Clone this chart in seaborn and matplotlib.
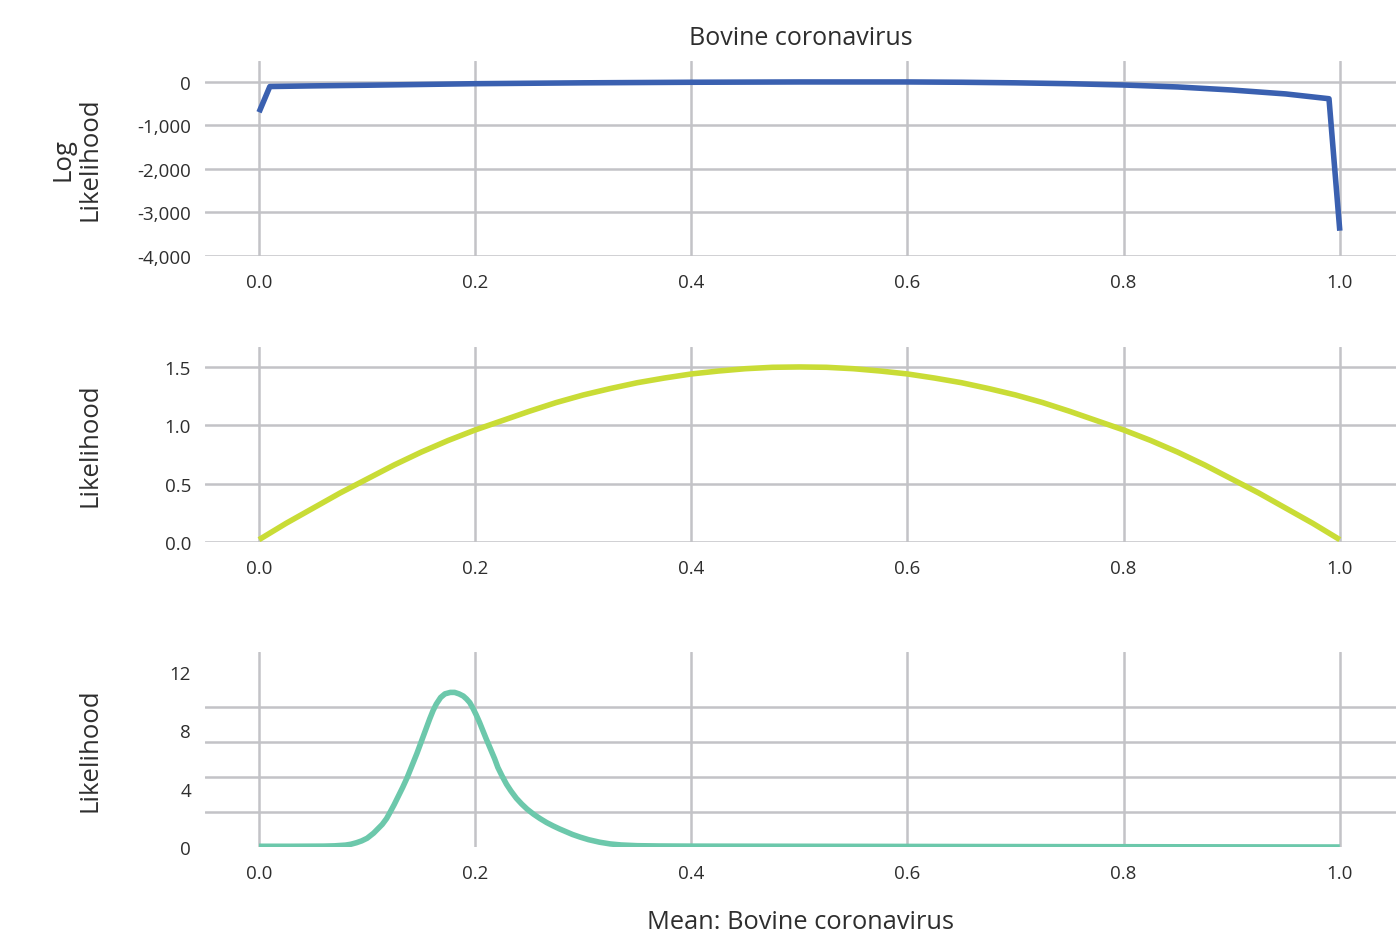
import numpy as np
import pandas as pd
import matplotlib
matplotlib.use("Agg")
import matplotlib.pyplot as plt
import seaborn as sns

# ---- data ----
title = "Bovine coronavirus"
xlabel = "Mean: Bovine coronavirus"

log_x = [0.0, 0.01, 0.05, 0.1, 0.2, 0.3, 0.4, 0.5, 0.6, 0.65, 0.7, 0.75,
         0.8, 0.85, 0.9, 0.95, 0.99, 1.0]
log_y = [-700, -110, -95, -80, -45, -25, -12, -5, -5, -12, -25, -45,
         -75, -120, -190, -280, -390, -3420]

prior_x = [0.0, 0.025, 0.05, 0.075, 0.1, 0.125, 0.15, 0.175, 0.2, 0.225, 0.25,
           0.275, 0.3, 0.325, 0.35, 0.375, 0.4, 0.425, 0.45, 0.475, 0.5,
           0.525, 0.55, 0.575, 0.6, 0.625, 0.65, 0.675, 0.7, 0.725, 0.75,
           0.775, 0.8, 0.825, 0.85, 0.875, 0.9, 0.925, 0.95, 0.975, 1.0]
prior_y = [0.02, 0.16, 0.29, 0.42, 0.54, 0.66, 0.77, 0.87, 0.96, 1.04, 1.12,
           1.195, 1.26, 1.315, 1.365, 1.405, 1.44, 1.465, 1.485, 1.497, 1.5,
           1.497, 1.485, 1.465, 1.44, 1.405, 1.365, 1.315, 1.26, 1.195, 1.12,
           1.04, 0.96, 0.87, 0.77, 0.66, 0.54, 0.42, 0.29, 0.16, 0.02]

post_x = [0.0, 0.03, 0.06, 0.07, 0.08, 0.085, 0.09, 0.095, 0.1, 0.106, 0.11,
          0.114, 0.118, 0.121, 0.125, 0.129, 0.133, 0.137, 0.14, 0.143, 0.146,
          0.149, 0.152, 0.155, 0.158, 0.161, 0.164, 0.168, 0.172, 0.177, 0.181,
          0.185, 0.189, 0.192, 0.195, 0.198, 0.201, 0.204, 0.207, 0.21, 0.214,
          0.218, 0.221, 0.225, 0.229, 0.233, 0.238, 0.243, 0.248, 0.254, 0.26,
          0.266, 0.272, 0.278, 0.284, 0.29, 0.297, 0.305, 0.315, 0.325, 0.335,
          0.35, 0.37, 0.4, 0.5, 0.6, 0.7, 0.8, 0.9, 1.0]
post_y = [0.05, 0.05, 0.06, 0.08, 0.13, 0.19, 0.29, 0.42, 0.6, 0.95, 1.25,
          1.55, 1.95, 2.35, 2.9, 3.5, 4.1, 4.75, 5.3, 5.85, 6.4,
          7.0, 7.6, 8.2, 8.8, 9.35, 9.8, 10.25, 10.5, 10.6, 10.6,
          10.5, 10.35, 10.15, 9.9, 9.5, 9.05, 8.55, 8.0, 7.45, 6.75,
          6.05, 5.45, 4.85, 4.3, 3.85, 3.35, 2.95, 2.6, 2.25, 1.95,
          1.68, 1.45, 1.24, 1.05, 0.86, 0.68, 0.5, 0.33, 0.21, 0.14,
          0.09, 0.07, 0.06, 0.05, 0.04, 0.03, 0.02, 0.01, 0.0]

x_ticks = [0.0, 0.2, 0.4, 0.6, 0.8, 1.0]
x_ticklabels = ["0.0", "0.2", "0.4", "0.6", "0.8", "1.0"]
top_yticks = [0, -1000, -2000, -3000, -4000]
top_yticklabels = ["0", "-1,000", "-2,000", "-3,000", "-4,000"]
mid_yticks = [0.0, 0.5, 1.0, 1.5]
mid_yticklabels = ["0.0", "0.5", "1.0", "1.5"]
bot_yticks = [0, 4, 8, 12]
bot_yticklabels = ["0", "4", "8", "12"]
bot_ygrid = [0, 2.4, 4.8, 7.2, 9.6, 12]

# ---- style ----
sns.set_theme(style="white")
plt.rcParams['font.family'] = ['Open Sans', 'DejaVu Sans']
text_color = "#2e2e2e"
grid_color = "#c3c3c7"

fig = plt.figure(figsize=(13.96, 9.37), dpi=100)
W, H = 1396, 937
def add_axes(top_px, bot_px):
    return fig.add_axes([205 / W, 1 - bot_px / H, 1 - 205 / W, (bot_px - top_px) / H])

ax1 = add_axes(62, 257)
ax2 = add_axes(348, 543)
ax3 = add_axes(653, 848)

df1 = pd.DataFrame({"x": log_x, "y": log_y})
df2 = pd.DataFrame({"x": prior_x, "y": prior_y})
df3 = pd.DataFrame({"x": post_x, "y": post_y})

line_kw = dict(lw=4.0, sort=False, solid_joinstyle="round", solid_capstyle="butt")
sns.lineplot(data=df1, x="x", y="y", ax=ax1, color="#3a60b0", **line_kw)
sns.lineplot(data=df2, x="x", y="y", ax=ax2, color="#c9dc36", **line_kw)
sns.lineplot(data=df3, x="x", y="y", ax=ax3, color="#6cc8ab", **line_kw)

for ax in (ax1, ax2, ax3):
    ax.set_xlim(-0.05, 1.052)
    ax.set_xticks(x_ticks)
    ax.set_xticklabels(x_ticklabels)
    for s in ax.spines.values():
        s.set_visible(False)
    ax.tick_params(axis="both", length=0, colors=text_color, labelsize=13.5)
    ax.tick_params(axis="x", pad=12)
    ax.tick_params(axis="y", pad=10)
    ax.grid(True, axis="x", color=grid_color, lw=1.8)
    ax.set_axisbelow(True)
    ax.set_xlabel("")

ax1.set_ylim(-4000, 476)
ax1.set_yticks(top_yticks)
ax1.set_yticklabels(top_yticklabels)
ax1.grid(True, axis="y", color=grid_color, lw=1.8)
ax1.set_ylabel("Log\nLikelihood", fontsize=18.5, color=text_color, linespacing=1.1)
ax1.set_title(title, fontsize=18, color=text_color, pad=12)

ax2.set_ylim(0, 1.671)
ax2.set_yticks(mid_yticks)
ax2.set_yticklabels(mid_yticklabels)
ax2.grid(True, axis="y", color=grid_color, lw=1.8)
ax2.set_ylabel("Likelihood", fontsize=18.5, color=text_color)

ax3.set_ylim(0, 13.37)
ax3.set_yticks(bot_yticks)
ax3.set_yticklabels(bot_yticklabels)
ax3.set_yticks(bot_ygrid, minor=True)
ax3.tick_params(axis="y", which="minor", length=0)
ax3.grid(True, axis="y", which="minor", color=grid_color, lw=1.8)
ax3.set_ylabel("Likelihood", fontsize=18.5, color=text_color)
ax3.set_xlabel(xlabel, fontsize=18.3, color=text_color, labelpad=20)

for ax in (ax1, ax2, ax3):
    ax.yaxis.set_label_coords(-0.086, 0.5)

fig.savefig("out.png", dpi=100)
